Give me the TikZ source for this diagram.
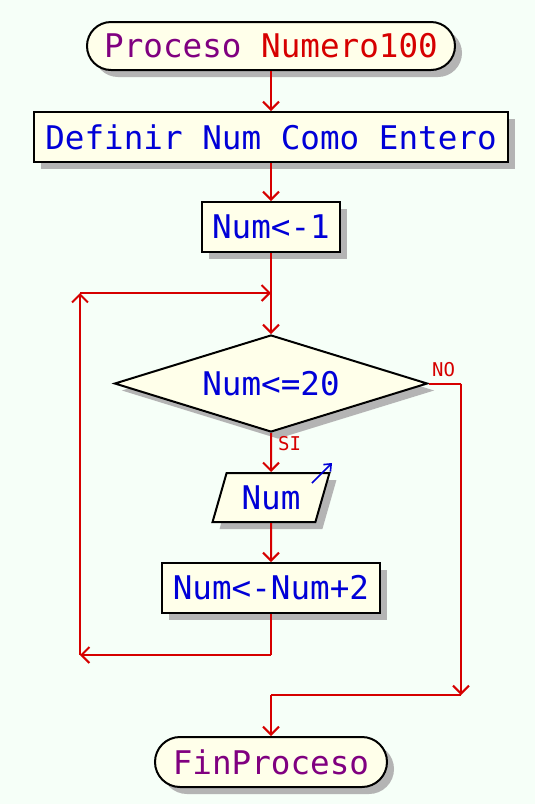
\documentclass[tikz,border=0pt]{standalone}
\usepackage{fontspec}
\setmainfont{DejaVu Sans Mono}
\usetikzlibrary{shapes.geometric,shapes.misc,arrows.meta,shadows}
\definecolor{bg}{RGB}{246,255,248}
\definecolor{cream}{RGB}{255,255,234}
\definecolor{lnred}{RGB}{214,0,0}
\definecolor{txblue}{RGB}{0,0,215}
\definecolor{txpurple}{RGB}{128,0,128}
\definecolor{shad}{RGB}{180,180,180}
\tikzset{
  shp/.style={draw=black, line width=2pt, fill=cream, inner sep=0pt,
    drop shadow={shadow xshift=7pt, shadow yshift=-7pt, fill=shad, opacity=1},
    font=\fontsize{32.6}{36}\selectfont, text=txblue},
  box/.style={shp, rectangle},
  term/.style={shp, rounded rectangle, text=txpurple},
  dec/.style={shp, diamond},
  io/.style={shp, trapezium, trapezium left angle=69, trapezium right angle=111, trapezium stretches=true},
  arr/.style={draw=lnred, line width=2pt, -{Straight Barb[length=8pt,width=16pt]}},
  ln/.style={draw=lnred, line width=2pt},
  lbl/.style={text=lnred, font=\fontsize{19}{20}\selectfont, inner sep=0pt}
}
\begin{document}
\begin{tikzpicture}[x=1pt,y=-1pt]
\fill[bg] (0,0) rectangle (535,804);
\useasboundingbox (0,0) rectangle (535,804);
\node[term, minimum width=368pt, minimum height=48pt] (start) at (271,46)
  {Proceso \textcolor{lnred}{Numero100}};
\node[box, minimum width=474pt, minimum height=50pt] (def) at (271,137)
  {Definir Num Como Entero};
\node[box, minimum width=138pt, minimum height=50pt] (n1) at (271,227) {Num<-1};
\node[dec, minimum width=313pt, minimum height=97pt, aspect=3.2] (cond) at (271,383.5) {Num<=20};
\node[io, minimum width=117pt, minimum height=49pt] (read) at (271,497.5) {Num\hspace{20pt}};
\node[box, minimum width=218pt, minimum height=50pt] (inc) at (271,588) {Num<-Num+2};
\node[term, minimum width=232pt, minimum height=50pt] (fin) at (271,762) {FinProceso};

\coordinate (j1) at (271,293);
\coordinate (c1) at (271,655);
\coordinate (c2) at (80,655);
\coordinate (c3) at (80,293);
\coordinate (c4) at (461,383.5);
\coordinate (c5) at (461,695);
\coordinate (c6) at (271,695);
\coordinate (ia) at (312,483);
\coordinate (ib) at (332,463);

\draw[arr] (start.south) -- (def.north);
\draw[arr] (def.south) -- (n1.north);
\draw[arr] (n1.south) -- (cond.north);
\draw[arr] (cond.south) -- (read.north);
\draw[arr] (read.south) -- (inc.north);
\draw[ln] (inc.south) -- (c1);
\draw[arr] (c1) -- (c2);
\draw[arr] (c2) -- (c3);
\draw[arr] (c3) -- (j1);
\draw[ln] (cond.east) -- (c4);
\draw[arr] (c4) -- (c5);
\draw[ln] (c5) -- (c6);
\draw[arr] (c6) -- (fin.north);
\draw[draw=txblue, line width=1.6pt, -{Straight Barb[length=6pt,width=10pt]}] (ia) -- (ib);

\node[lbl, anchor=south west] (no) at (432,377) {NO};
\node[lbl, anchor=north west] (si) at (278,436) {SI};
\end{tikzpicture}
\end{document}
